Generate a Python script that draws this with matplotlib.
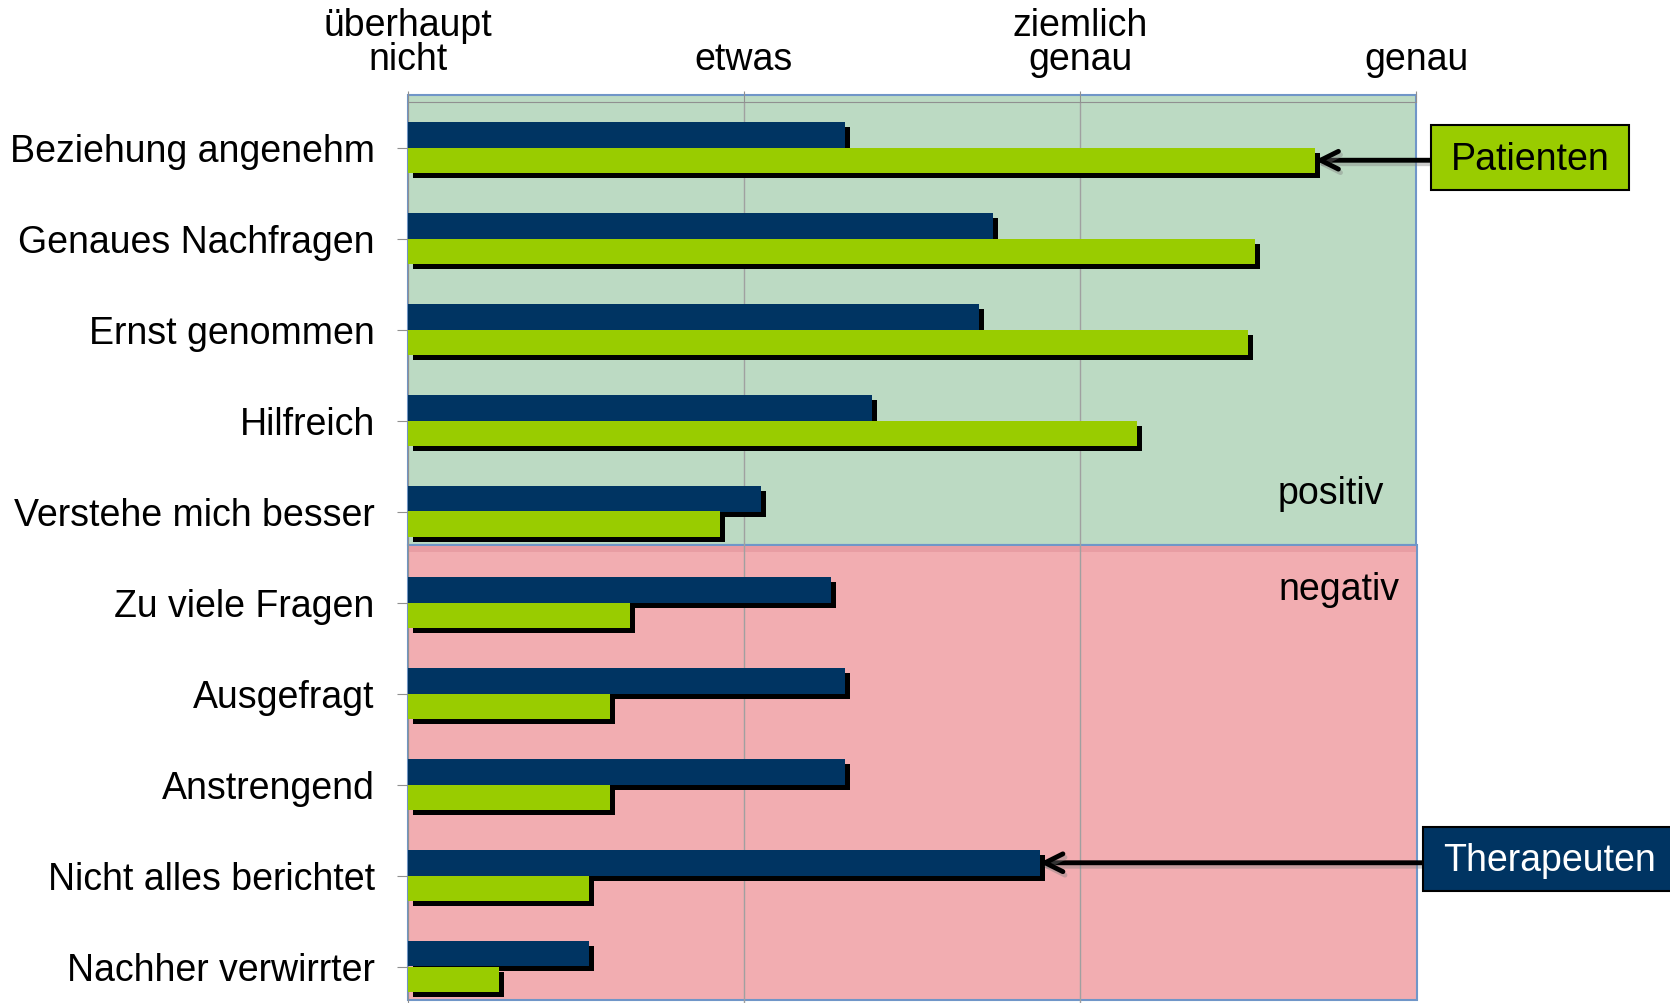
import matplotlib.pyplot as plt
import matplotlib.patheffects as pe
from matplotlib.patches import Rectangle

plt.rcParams['font.family'] = ['Liberation Sans', 'DejaVu Sans']

categories = ['Beziehung angenehm', 'Genaues Nachfragen', 'Ernst genommen', 'Hilfreich',
              'Verstehe mich besser', 'Zu viele Fragen', 'Ausgefragt', 'Anstrengend',
              'Nicht alles berichtet', 'Nachher verwirrter']
therapeuten = [1.30, 1.74, 1.70, 1.38, 1.05, 1.26, 1.30, 1.30, 1.88, 0.54]
patienten = [2.70, 2.52, 2.50, 2.17, 0.93, 0.66, 0.60, 0.60, 0.54, 0.27]
scale_labels = ['überhaupt\nnicht', 'etwas', 'ziemlich\ngenau', 'genau']

navy = '#003462'
lime = '#99CC00'
fs = 27
W, H = 1670, 1004

fig = plt.figure(figsize=(W / 100, H / 100), dpi=100)
ax = fig.add_axes([408 / W, 1 - 1013 / H, 1008 / W, 910 / H])
ax.set_xlim(0, 3)
ax.set_ylim(9.5, -0.5)

# background zones
ax.add_patch(Rectangle((0, -0.577), 3, 4.945, facecolor='#BCDAC3', edgecolor='#7096C8',
                       lw=1.5, zorder=0, clip_on=False))
ax.add_patch(Rectangle((0, 4.368), 3.003, 5.0, facecolor='#F2ADB1', edgecolor='#7096C8',
                       lw=1.5, zorder=0, clip_on=False))
ax.add_patch(Rectangle((0.003, 4.375), 3.0, 0.07, facecolor='#E89DA3', lw=0, zorder=0.5))

for x in (1, 2):
    ax.axvline(x, color='#A0A0A0', lw=1, zorder=1)

y = range(len(categories))
shadow = [pe.SimplePatchShadow(offset=(3.6, -3.6), shadow_rgbFace='black', alpha=1), pe.Normal()]
b1 = ax.barh([i - 0.14 for i in y], therapeuten, height=0.28, color=navy, zorder=3)
for p in b1:
    p.set_path_effects(shadow)
b2 = ax.barh([i + 0.14 for i in y], patienten, height=0.28, color=lime, zorder=4)
for p in b2:
    p.set_path_effects(shadow)

ax.set_yticks(list(y))
ax.set_yticklabels(categories, fontsize=fs)
ax.xaxis.tick_top()
ax.set_xticks([0, 1, 2, 3])
ax.set_xticklabels(scale_labels, fontsize=fs, linespacing=0.92)
ax.tick_params(axis='y', length=8, color='#909090', pad=16)
ax.tick_params(axis='x', length=8, color='#909090', pad=10)
for s in ('right', 'bottom'):
    ax.spines[s].set_visible(False)
for s in ('left', 'top'):
    ax.spines[s].set_color('#909090')
    ax.spines[s].set_zorder(2)

ax.text(2.906, 3.80, 'positiv', fontsize=fs, ha='right', va='center', zorder=5)
ax.text(2.95, 4.85, 'negativ', fontsize=fs, ha='right', va='center', zorder=5)

# callout boxes
arrow = dict(arrowstyle='->', lw=3.5, color='black', mutation_scale=32, shrinkA=0, shrinkB=0,
             path_effects=[pe.SimpleLineShadow(offset=(1.5, -2.5), shadow_color='gray', alpha=0.4),
                           pe.Normal()])
ax.annotate('', xy=(patienten[0], 0.14), xytext=(3.045, 0.14), arrowprops=arrow,
            annotation_clip=False, zorder=6)
ax.annotate('', xy=(therapeuten[8], 8 - 0.14), xytext=(3.02, 8 - 0.14), arrowprops=arrow,
            annotation_clip=False, zorder=6)

fig.patches.append(Rectangle((1431 / W, 1 - 191 / H), 198 / W, 65 / H, facecolor=lime,
                             edgecolor='black', lw=1.5, transform=fig.transFigure))
fig.text(1530 / W, 1 - 160 / H, 'Patienten', fontsize=fs, ha='center', va='center')
fig.patches.append(Rectangle((1423 / W, 1 - 892 / H), 260 / W, 64 / H, facecolor=navy,
                             edgecolor='black', lw=1.5, transform=fig.transFigure))
fig.text(1550 / W, 1 - 861 / H, 'Therapeuten', fontsize=fs, ha='center', va='center',
         color='white')

fig.savefig('out.png', dpi=100)
